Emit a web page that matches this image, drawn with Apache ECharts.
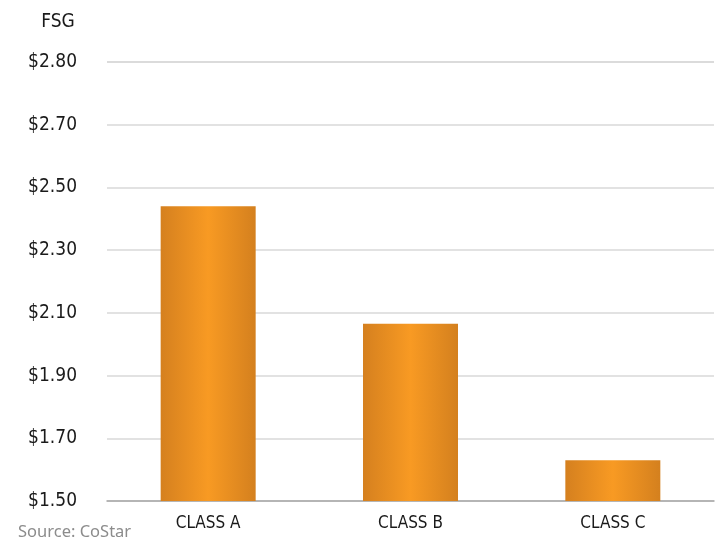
<!DOCTYPE html>
<html>
<head>
<meta charset="utf-8">
<script src="https://cdn.jsdelivr.net/npm/echarts@6/dist/echarts.min.js"></script>
<style>html,body{margin:0;padding:0;background:#fff}#c{width:719px;height:544px}</style>
</head>
<body>
<div id="c"></div>
<script>
var categories = ['CLASS A', 'CLASS B', 'CLASS C'];
var values = [2.44, 2.065, 1.63];
var tickLabels = ['$1.50', '$1.70', '$1.90', '$2.10', '$2.30', '$2.50', '$2.70', '$2.80'];
var axisMin = 1.5, axisStep = 0.2, axisMax = axisMin + axisStep * (tickLabels.length - 1);

var condensed = '"DejaVu Sans Condensed", "Liberation Sans Narrow", sans-serif';
var chart = echarts.init(document.getElementById('c'));
chart.setOption({
  animation: false,
  grid: { left: 107, right: 5, top: 62, bottom: 43 },
  graphic: [{
    type: 'text', left: 18, top: 524,
    style: { text: 'Source: CoStar', fill: '#8c8c8c', font: '16.5px "Noto Sans", Lato, sans-serif' }
  }],
  xAxis: {
    type: 'category', data: categories,
    axisLine: { lineStyle: { color: '#a6a6a6', width: 1.5 } },
    axisTick: { show: false },
    axisLabel: { color: '#1a1a1a', fontFamily: condensed, fontSize: 17, margin: 14 }
  },
  yAxis: {
    type: 'value', min: axisMin, max: axisMax, interval: axisStep,
    name: 'FSG', nameLocation: 'end', nameGap: 30,
    nameTextStyle: { color: '#1a1a1a', fontFamily: condensed, fontSize: 19, align: 'center', padding: [0, 0, 0, -98] },
    axisLine: { show: false }, axisTick: { show: false },
    splitLine: { lineStyle: { color: '#d9d9d9', width: 1.5 } },
    axisLabel: {
      color: '#1a1a1a', fontFamily: condensed, fontSize: 19, margin: 30,
      formatter: function (v) { return tickLabels[Math.round((v - axisMin) / axisStep)]; }
    }
  },
  series: [{
    type: 'bar', data: values, barWidth: 95,
    itemStyle: {
      color: new echarts.graphic.LinearGradient(0, 0, 1, 0, [
        { offset: 0, color: '#d5801f' },
        { offset: 0.5, color: '#f89a23' },
        { offset: 1, color: '#d4801e' }
      ])
    }
  }]
});
</script>
</body>
</html>
